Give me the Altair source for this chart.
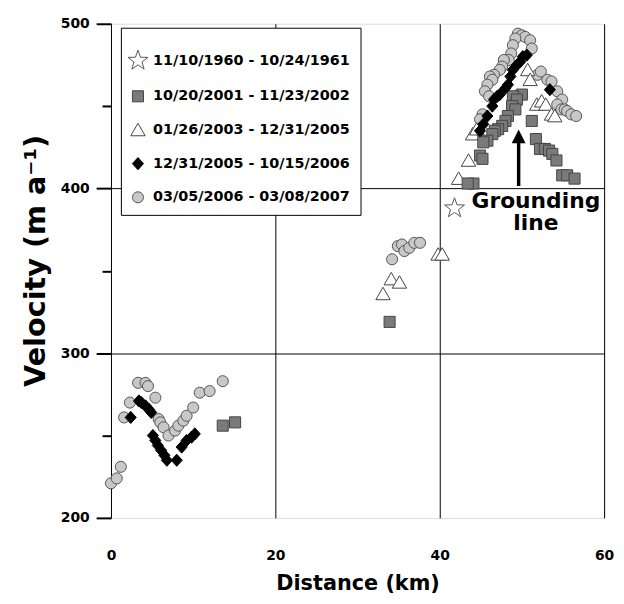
import altair as alt
import pandas as pd

periods = [
    "11/10/1960 - 10/24/1961",
    "10/20/2001 - 11/23/2002",
    "01/26/2003 - 12/31/2005",
    "12/31/2005 - 10/15/2006",
    "03/05/2006 - 03/08/2007",
]

# 1960-1961 (star)
star_km = [41.8]
star_v = [388]

# 2001-2002 (grey squares)
sq_km = [13.6, 15.1, 33.9,
         50.0, 48.9, 49.4, 48.8, 49.2, 48.3, 48.0, 47.6, 47.1, 46.7, 46.4, 45.8, 45.3,
         44.9, 45.2, 44.1, 43.4, 51.2, 51.7, 52.2, 52.8, 53.3, 53.7, 54.2, 54.9, 55.5, 56.4]
sq_v = [256, 258, 319,
        457, 456, 454, 450, 448, 444, 441, 438, 436, 435, 433, 429, 428,
        420, 418, 403, 403, 441, 430, 424, 424, 423, 421, 417, 408, 408, 406]

# 2003-2005 (open triangles)
tri_km = [33.1, 34.1, 35.1, 39.8, 40.3,
          42.3, 43.5, 44.0, 44.5, 50.7, 51.0, 51.8, 52.4, 52.9, 53.6, 54.0]
tri_v = [336, 345, 343, 360, 360,
         406, 417, 433, 436, 472, 466, 451, 453, 451, 445, 444]

# 2005-2006 (black diamonds)
dia_km = [2.4, 3.4, 3.7, 4.2, 4.6, 4.9, 5.1, 5.4, 5.7, 6.1, 6.5, 6.8, 8.0, 8.6, 9.2, 9.8, 10.2,
          50.6, 50.1, 49.8, 49.4, 48.9, 48.6, 48.3, 48.0, 47.3, 47.0, 46.6, 46.4, 45.8, 45.3, 44.9, 53.4]
dia_v = [261, 271, 270, 268, 266, 264, 250, 247, 244, 241, 238, 235, 235, 243, 247, 249, 251,
         481, 480, 477, 475, 472, 468, 463, 461, 457, 456, 454, 450, 444, 439, 435, 460]

# 2006-2007 (grey circles)
cir_km = [0.0, 0.7, 1.2, 1.6, 2.3, 3.3, 4.2, 4.5, 5.4, 5.8, 6.0, 6.4, 7.0, 7.8, 8.2, 8.8, 9.2,
          10.0, 10.8, 12.0, 13.6,
          34.2, 34.9, 35.4, 35.7, 36.3, 36.9, 37.6,
          49.5, 50.0, 50.4, 51.0, 49.2, 48.9, 51.2, 48.7, 48.4, 47.8, 47.6, 47.3, 46.6, 46.1,
          46.4, 45.8, 45.5, 46.0, 45.2, 44.9, 51.9, 52.3, 53.1, 53.6, 54.3, 54.9, 54.3, 54.8,
          55.2, 55.5, 56.0, 56.6]
cir_v = [221, 224, 231, 261, 270, 282, 282, 280, 273, 260, 258, 255, 250, 253, 256, 259, 262,
         267, 276, 277, 283,
         357, 365, 366, 362, 364, 367, 367,
         494, 493, 492, 490, 491, 487, 485, 482, 478, 478, 474, 472, 469, 468,
         466, 463, 459, 456, 445, 442, 469, 471, 466, 465, 459, 454, 451, 448,
         448, 447, 445, 444]

# y axis tick values (labelled every 100, minor ticks in between)
y_ticks = [200, 250, 300, 350, 400, 450, 500]

# grounding line arrow and label
arrow_km = [49.6]
arrow_v0 = [401.5]
arrow_v1 = [430]
arrow_head_v = [431.6]
label_km = [51.7, 51.7]
label_v = [388.4, 374.6]
label_txt = ["Grounding", "line"]

star_path = ("M0,-1.9L0.45,-0.62L1.8,-0.59L0.72,0.24L1.11,1.54L0,0.76L-1.11,1.54L-0.72,0.24"
             "L-1.8,-0.59L-0.45,-0.62Z")
tri_path = "M0,-1.2L1.3,1.05L-1.3,1.05Z"
dia_path = "M0,-1.1L1.0,0L0,1.1L-1.0,0Z"

rows = []
for p, xs, ys in [(periods[4], cir_km, cir_v), (periods[2], tri_km, tri_v),
                  (periods[1], sq_km, sq_v), (periods[3], dia_km, dia_v),
                  (periods[0], star_km, star_v)]:
    for x, y in zip(xs, ys):
        rows.append({"period": p, "km": x, "v": y})
df = pd.DataFrame(rows)
df["order"] = range(len(df))

FONT = "DejaVu Sans"
YSCALE = alt.Scale(domain=[200, 500], nice=False)
XSCALE = alt.Scale(domain=[0, 60], nice=False)
MAJOR = "datum.value % 100 === 0"

xenc = alt.X("km:Q", scale=XSCALE,
             axis=alt.Axis(values=[0, 20, 40, 60], title="Distance (km)", grid=True,
                           gridColor="black", gridWidth=1, ticks=False, domain=False,
                           labelPadding=31, labelFlush=False, labelFontSize=14,
                           labelFont=FONT, labelFontWeight="bold", labelColor="black",
                           titleFont=FONT, titleFontWeight="bold", titleColor="black",
                           titleFontSize=21, titlePadding=10))
yenc = alt.Y("v:Q", scale=YSCALE,
             axis=alt.Axis(values=y_ticks,
                           labelExpr=MAJOR + " ? datum.label : ''",
                           title="Velocity (m a\u207b\u00b9)", grid=True, gridColor="black",
                           gridWidth=1,
                           gridOpacity={"condition": {"test": "datum.value === 300 || datum.value === 400",
                                                      "value": 1}, "value": 0},
                           ticks=True, tickSize=15, tickColor="black", tickWidth=2,
                           tickDash={"condition": {"test": MAJOR, "value": []},
                                     "value": [9, 30]},
                           domain=False,
                           labelPadding=7, labelFontSize=14,
                           labelFont=FONT, labelFontWeight="bold", labelColor="black",
                           titleFont=FONT, titleFontWeight="bold", titleColor="black",
                           titleFontSize=29, titlePadding=10, titleY=239))

legend = alt.Legend(title=" ", orient="none", legendX=10, legendY=4,
                    strokeColor="black", fillColor="white", padding=10,
                    labelFont=FONT, labelFontWeight="bold", labelFontSize=14.5,
                    labelColor="black", labelOffset=8, rowPadding=17, symbolSize=125,
                    symbolStrokeWidth=1, titleFontSize=14, titlePadding=2, labelLimit=300)

points = alt.Chart(df).mark_point(opacity=1, strokeWidth=1, size=125).encode(
    x=xenc, y=yenc,
    shape=alt.Shape("period:N", scale=alt.Scale(domain=periods,
                    range=[star_path, "square", tri_path, dia_path, "circle"]), legend=legend),
    fill=alt.Fill("period:N", scale=alt.Scale(domain=periods,
                  range=["white", "#7a7a7a", "white", "black", "#c8c8c8"]), legend=legend),
    stroke=alt.Stroke("period:N", scale=alt.Scale(domain=periods,
                      range=["#555555", "#454545", "#444444", "black", "#555555"]), legend=legend),
    order="order:Q",
)

arrow_df = pd.DataFrame({"km": arrow_km, "v0": arrow_v0, "v1": arrow_v1, "vh": arrow_head_v})
shaft = alt.Chart(arrow_df).mark_rule(color="black", strokeWidth=3.5).encode(
    x=alt.X("km:Q", scale=XSCALE),
    y=alt.Y("v0:Q", scale=YSCALE), y2="v1:Q")
head = alt.Chart(arrow_df).mark_point(shape="M0,-1L1,1L-1,1Z", filled=True, color="black",
                                      opacity=1, size=196).encode(
    x=alt.X("km:Q", scale=XSCALE),
    y=alt.Y("vh:Q", scale=YSCALE))

lab_df = pd.DataFrame({"km": label_km, "v": label_v, "t": label_txt})
labels = alt.Chart(lab_df).mark_text(font=FONT, fontWeight="bold", fontSize=22, color="black",
                                     align="center", baseline="alphabetic").encode(
    x=alt.X("km:Q", scale=XSCALE),
    y=alt.Y("v:Q", scale=YSCALE), text="t:N")

chart = alt.layer(points, shaft, head, labels).properties(
    width=498, height=499,
    autosize=alt.AutoSizeParams(type="none"),
    padding={"left": 104, "top": 13, "right": 12, "bottom": 80},
).configure_view(stroke="black", strokeWidth=1.5).configure_axis(
    labelOverlap=False,
).configure(background="white")

chart.save("out.html", embed_options={"renderer": "svg", "actions": False})
